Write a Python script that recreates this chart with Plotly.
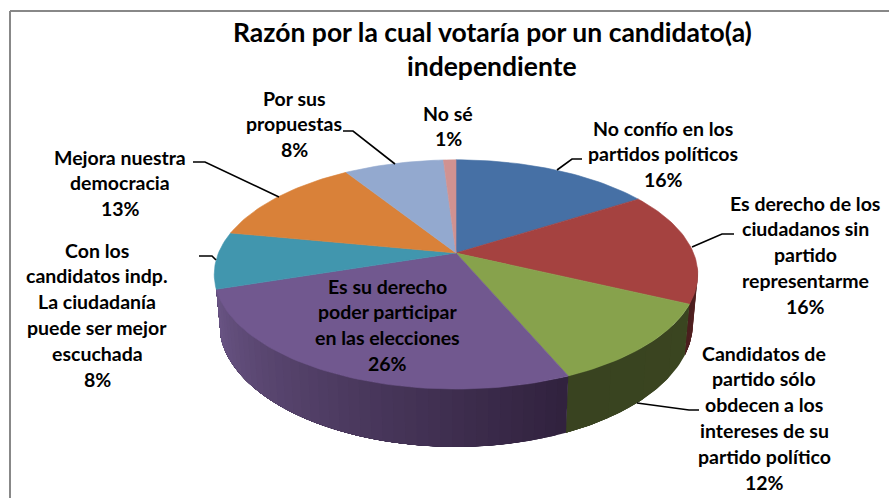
import math
import plotly.graph_objects as go

# ---- data ----
categories = [
    "No confío en los partidos políticos",
    "Es derecho de los ciudadanos sin partido representarme",
    "Candidatos de partido sólo obdecen a los intereses de su partido político",
    "Es su derecho poder participar en las elecciones",
    "Con los candidatos indp. La ciudadanía puede ser mejor escuchada",
    "Mejora nuestra democracia",
    "Por sus propuestas",
    "No sé",
]
values = [16, 16, 11.6, 26.4, 8, 13, 8, 1]
label_lines = [
    ["No confío en los", "partidos políticos", "16%"],
    ["Es derecho de los", "ciudadanos sin", "partido", "representarme", "16%"],
    ["Candidatos de", "partido sólo", "obdecen a los", "intereses de su", "partido político", "12%"],
    ["Es su derecho", "poder participar", "en las elecciones", "26%"],
    ["Con los", "candidatos indp.", "La ciudadanía", "puede ser mejor", "escuchada", "8%"],
    ["Mejora nuestra", "democracia", "13%"],
    ["Por sus", "propuestas", "8%"],
    ["No sé", "1%"],
]
title_lines = ["Razón por la cual votaría por un candidato(a)", "independiente"]

# ---- styling ----
top_colors = ["#4670a5", "#a54240", "#87a24c", "#71588f", "#4196ae", "#d98139", "#93a9cf", "#d09291"]
label_x = [663, 805, 764, 387, 97, 120, 294, 448]
label_y0 = [128, 203, 353, 286, 250, 157, 98, 113]
line_gap = 25.8
leaders = [
    [(557, 170), (572, 159), (582, 159)],
    [(692, 247), (722, 234), (734, 234)],
    [(637, 403), (689, 410), (699, 410)],
    None,
    [(199, 256), (212, 256), (216, 260)],
    [(193, 162), (205, 162), (279, 197)],
    [(343, 131), (353, 131), (395, 164)],
    None,
]
FONT = "Lato"
CX, CY, B, A, K, DEPTH = 456, 253, 237.5, 110.6, 0.187, 47


def top_pt(t):
    s, c = math.sin(t), math.cos(t)
    w = 1 + K * c
    return CX + B * s / w, CY - A * c / w


def low_pt(t):
    x, y = top_pt(t)
    w = 1 + K * math.cos(t)
    return CX + (x - CX) * 0.98, y + DEPTH / w


def mix(c1, c2, f):
    a = [int(c1[i:i + 2], 16) for i in (1, 3, 5)]
    b = [int(c2[i:i + 2], 16) for i in (1, 3, 5)]
    return "#" + "".join(f"{round(p + (q - p) * f):02x}" for p, q in zip(a, b))


total = sum(values)
edges = [0.0]
for v in values:
    edges.append(edges[-1] + v / total * 2 * math.pi)

fig = go.Figure()


def poly(xs, ys, color, lw=0.6):
    fig.add_trace(go.Scatter(x=xs, y=ys, mode="lines", fill="toself", fillcolor=color,
                             line=dict(color=color, width=lw), hoverinfo="skip", showlegend=False))


# side wall: red (end part), green, purple; each band overlaps the rest so no seams show
side_ranges = [
    (math.radians(97), edges[2], "#5a2524", "#4a1d1d", 6),
    (edges[2], edges[3], "#3a4520", "#394320", 4),
    (edges[3], edges[4], "#30213d", "#6a5585", 40),
]
for a0, a1, c0, c1, n in side_ranges:
    for i in range(n):
        t0 = a0 + (a1 - a0) * i / n
        ts = [t0 + (a1 - t0) * j / 30 for j in range(31)]
        p = [top_pt(t) for t in ts] + [low_pt(t) for t in reversed(ts)]
        p.append(p[0])
        poly([q[0] for q in p], [q[1] for q in p], mix(c0, c1, (i + 0.5) / n), lw=0)

# top faces
for i, col in enumerate(top_colors):
    a0, a1 = edges[i], edges[i + 1]
    n = max(4, int((a1 - a0) * 40))
    pts = [(CX, CY)] + [top_pt(a0 + (a1 - a0) * j / n) for j in range(n + 1)] + [(CX, CY)]
    poly([q[0] for q in pts], [q[1] for q in pts], col)

# leader lines
for seg in leaders:
    if seg:
        fig.add_trace(go.Scatter(x=[q[0] for q in seg], y=[q[1] for q in seg], mode="lines",
                                 line=dict(color="#000000", width=1.6), hoverinfo="skip", showlegend=False))

# text
annotations = []
for lines, x, y0 in zip(label_lines, label_x, label_y0):
    for j, txt in enumerate(lines):
        annotations.append(dict(x=x, y=y0 + j * line_gap, text=txt, showarrow=False, xref="x", yref="y",
                                xanchor="center", yanchor="middle",
                                font=dict(family=FONT, size=19.5, color="#000000", weight="bold")))
for j, txt in enumerate(title_lines):
    annotations.append(dict(x=492, y=32 + j * 34, text=txt, showarrow=False, xref="x", yref="y",
                            xanchor="center", yanchor="middle",
                            font=dict(family=FONT, size=26.5, color="#000000", weight="bold")))

fig.update_layout(
    width=889, height=498, margin=dict(l=0, r=0, t=0, b=0),
    paper_bgcolor="#ffffff", plot_bgcolor="#ffffff", showlegend=False,
    xaxis=dict(range=[0, 889], visible=False, fixedrange=True),
    yaxis=dict(range=[498, 0], visible=False, fixedrange=True),
    annotations=annotations,
    shapes=[dict(type="line", xref="x", yref="y", x0=10, y0=11, x1=889, y1=11, line=dict(color="#888888", width=2)),
            dict(type="line", xref="x", yref="y", x0=10, y0=11, x1=10, y1=498, line=dict(color="#888888", width=2))],
)
fig.write_html("out.html", config={"displayModeBar": False},
               post_script="document.body.style.margin='0';document.documentElement.style.overflow='hidden';")
